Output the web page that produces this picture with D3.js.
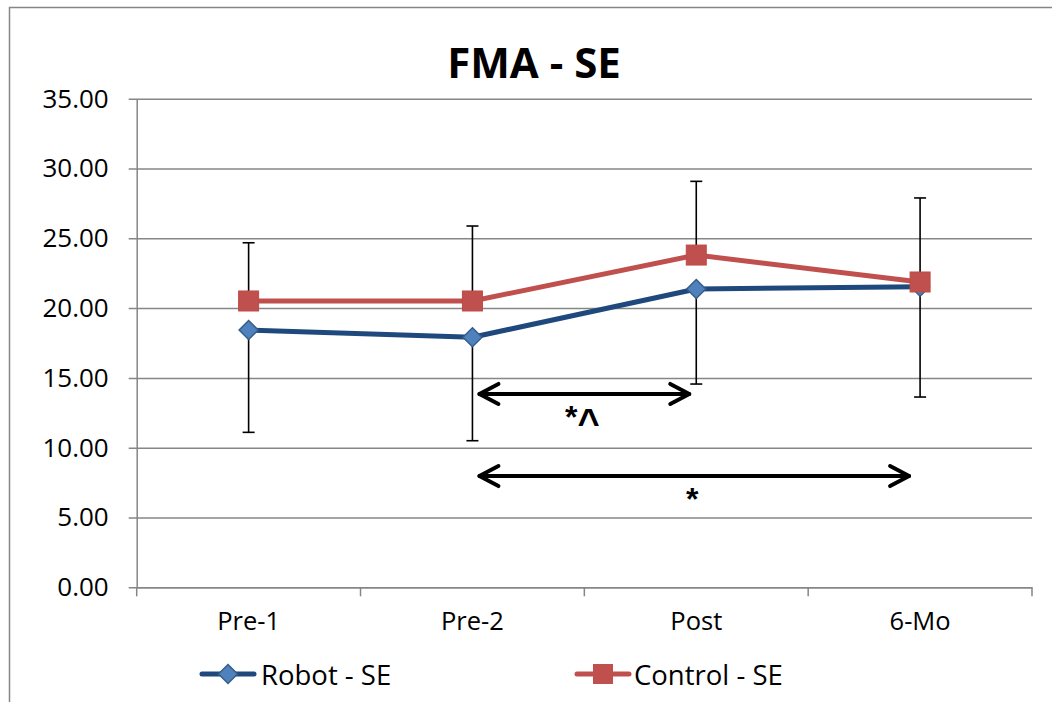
<!DOCTYPE html>
<html>
<head>
<meta charset="utf-8">
<script src="https://cdn.jsdelivr.net/npm/d3@7"></script>
<style>
  html, body { margin: 0; padding: 0; background: #fff; }
  svg { display: block; font-family: "Open Sans", "Liberation Sans", sans-serif; }
</style>
</head>
<body>
<svg id="chart" width="1052" height="702"></svg>
<script>
// Time points
const categories = ["Pre-1", "Pre-2", "Post", "6-Mo"];
// Series means
const robotValues   = [18.43, 17.91, 21.37, 21.53];
const controlValues = [20.51, 20.51, 23.80, 21.87];
// Standard errors (robot shown below, control shown above)
const robotErrMinus  = [7.33, 7.41, 6.81, 7.90];
const controlErrPlus = [4.17, 5.37, 5.28, 6.02];
// Y axis ticks
const yTicks = [0, 5, 10, 15, 20, 25, 30, 35];
// Significance brackets
const brackets = [
  { from: "Pre-2", to: "Post", level: 13.85, label: ["*", "^"] },
  { from: "Pre-2", to: "6-Mo", level: 7.97,  label: ["*"] }
];
const seriesNames = ["Robot - SE", "Control - SE"];

const svg = d3.select("#chart");
const W = 1052, H = 702;
const plot = { left: 136.7, right: 1032, top: 98.7, bottom: 587.3 };
const gridColor = "#868686";

svg.append("rect").attr("width", W).attr("height", H).attr("fill", "#fff");
// chart frame
svg.append("rect")
  .attr("x", 9.5).attr("y", 7.5).attr("width", W + 20).attr("height", H + 20)
  .attr("fill", "none").attr("stroke", gridColor).attr("stroke-width", 1.5);

const x = d3.scaleBand().domain(categories).range([plot.left, plot.right]);
const cx = c => x(c) + x.bandwidth() / 2;
const y = d3.scaleLinear().domain([0, 35]).range([plot.bottom, plot.top]);

// Title
svg.append("text")
  .attr("x", 534).attr("y", 61)
  .attr("text-anchor", "middle").attr("dominant-baseline", "central")
  .attr("font-size", 42).attr("font-weight", "bold")
  .text("FMA - SE");

// Horizontal gridlines + y axis
const yAxis = d3.axisLeft(y).tickValues(yTicks)
  .tickSize(-(plot.right - plot.left)).tickSizeOuter(0)
  .tickFormat(d3.format(".2f")).tickPadding(28);
const gy = svg.append("g").attr("transform", `translate(${plot.left},0)`).call(yAxis);
gy.select(".domain").attr("stroke", gridColor).attr("stroke-width", 1.5);
gy.selectAll(".tick line")
  .attr("x1", -8)
  .attr("stroke", gridColor).attr("stroke-width", 1.5);
gy.selectAll(".tick text")
  .attr("font-size", 26).attr("fill", "#000")
  .attr("font-family", "'Open Sans', sans-serif");

// X axis
const xAxis = d3.axisBottom(x).tickSize(0).tickSizeOuter(0).tickPadding(25);
const gx = svg.append("g").attr("transform", `translate(0,${plot.bottom})`).call(xAxis);
gx.select(".domain").attr("stroke", gridColor).attr("stroke-width", 1.5);
gx.selectAll(".tick text")
  .attr("font-size", 25.5).attr("fill", "#000")
  .attr("font-family", "'Open Sans', sans-serif");
// category boundary tick marks
const bounds = categories.map(c => x(c)).concat([plot.right]);
gx.selectAll("line.bound").data(bounds).enter().append("line")
  .attr("class", "bound")
  .attr("x1", d => d).attr("x2", d => d).attr("y1", 0).attr("y2", 9)
  .attr("stroke", gridColor).attr("stroke-width", 1.5);

// Error bars
const capW = 6;
function errBar(g, c, v0, v1) {
  g.append("line").attr("x1", cx(c)).attr("x2", cx(c))
    .attr("y1", y(v0)).attr("y2", y(v1))
    .attr("stroke", "#000").attr("stroke-width", 1.6);
  g.append("line").attr("x1", cx(c) - capW).attr("x2", cx(c) + capW)
    .attr("y1", y(v1)).attr("y2", y(v1))
    .attr("stroke", "#000").attr("stroke-width", 1.6);
}
const gErr = svg.append("g");
categories.forEach((c, i) => {
  errBar(gErr, c, robotValues[i], robotValues[i] - robotErrMinus[i]);
  errBar(gErr, c, controlValues[i], controlValues[i] + controlErrPlus[i]);
});

// Lines
const line = d3.line().x((d, i) => cx(categories[i])).y(d => y(d));
svg.append("path").datum(robotValues)
  .attr("d", line).attr("fill", "none")
  .attr("stroke", "#1F497D").attr("stroke-width", 5).attr("stroke-linejoin", "round");
const diamond = s => `M0,${-s}L${s},0L0,${s}L${-s},0Z`;
svg.append("g").selectAll("path").data(robotValues).enter().append("path")
  .attr("transform", (d, i) => `translate(${cx(categories[i])},${y(d)})`)
  .attr("d", diamond(9.5))
  .attr("fill", "#4F81BD").attr("stroke", "#385D8A").attr("stroke-width", 1.5);

svg.append("path").datum(controlValues)
  .attr("d", line).attr("fill", "none")
  .attr("stroke", "#C0504D").attr("stroke-width", 5).attr("stroke-linejoin", "round");
svg.append("g").selectAll("rect").data(controlValues).enter().append("rect")
  .attr("x", (d, i) => cx(categories[i]) - 10).attr("y", d => y(d) - 10)
  .attr("width", 20).attr("height", 20)
  .attr("fill", "#C0504D").attr("stroke", "#BE4B48").attr("stroke-width", 1);

// Significance arrows
const gArr = svg.append("g").attr("stroke", "#000").attr("fill", "none")
  .attr("stroke-width", 4).attr("stroke-linecap", "round").attr("stroke-linejoin", "round");
brackets.forEach(b => {
  const x0 = cx(b.from) + 7, x1 = cx(b.to) - (b.to === "6-Mo" ? 11 : 7);
  const yy = y(b.level);
  gArr.append("line").attr("x1", x0).attr("x2", x1).attr("y1", yy).attr("y2", yy);
  gArr.append("path").attr("d", `M${x0 + 19},${yy - 10}L${x0},${yy}L${x0 + 19},${yy + 10}`);
  gArr.append("path").attr("d", `M${x1 - 19},${yy - 10}L${x1},${yy}L${x1 - 19},${yy + 10}`);
  const t = svg.append("text")
    .attr("x", (x0 + x1) / 2 - 2).attr("y", yy + 34)
    .attr("text-anchor", "middle")
    .attr("font-size", 32).attr("font-weight", "bold").attr("font-family", "'Liberation Sans', sans-serif");
  t.append("tspan").text(b.label[0]);
  if (b.label[1]) {
    t.append("tspan").attr("font-size", 38).attr("dy", 8).text(b.label[1]);
  }
});

// Legend
const ly = 674;
const lg = svg.append("g");
lg.append("line").attr("x1", 202).attr("x2", 254).attr("y1", ly).attr("y2", ly)
  .attr("stroke", "#1F497D").attr("stroke-width", 5).attr("stroke-linecap", "round");
lg.append("path").attr("transform", `translate(228,${ly})`).attr("d", diamond(9.5))
  .attr("fill", "#4F81BD").attr("stroke", "#385D8A").attr("stroke-width", 1.5);
lg.append("text").attr("x", 261).attr("y", ly).attr("dominant-baseline", "central")
  .attr("font-size", 27.5).text(seriesNames[0]);
lg.append("line").attr("x1", 577).attr("x2", 629).attr("y1", ly).attr("y2", ly)
  .attr("stroke", "#C0504D").attr("stroke-width", 5).attr("stroke-linecap", "round");
lg.append("rect").attr("x", 593).attr("y", ly - 10).attr("width", 20).attr("height", 20)
  .attr("fill", "#C0504D");
lg.append("text").attr("x", 634).attr("y", ly).attr("dominant-baseline", "central")
  .attr("font-size", 27.5).text(seriesNames[1]);
</script>
</body>
</html>
